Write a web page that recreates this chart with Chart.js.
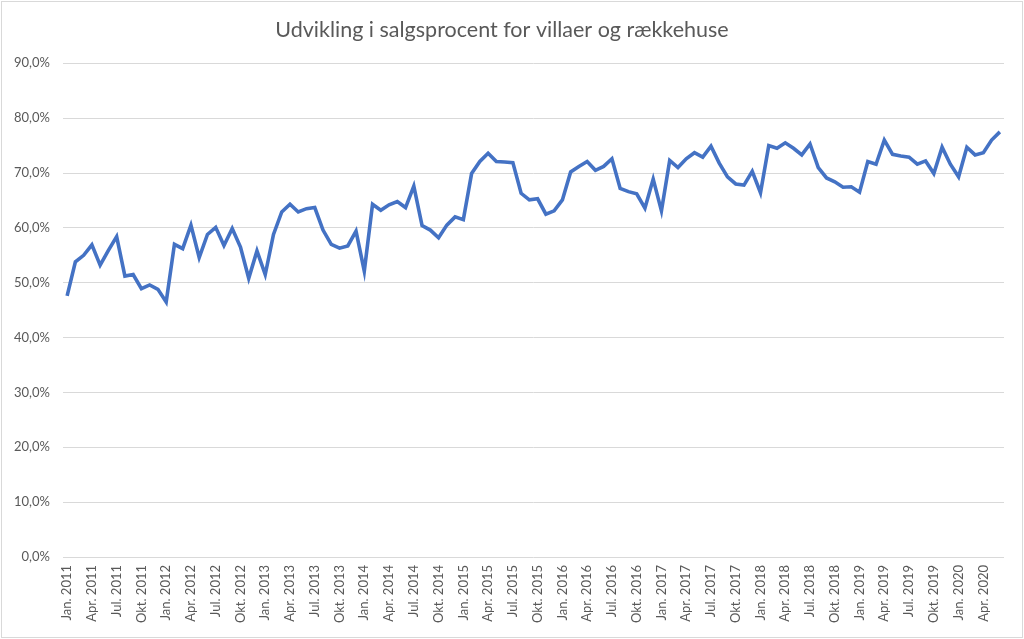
<!DOCTYPE html>
<html>
<head>
<meta charset="utf-8">
<script src="https://cdn.jsdelivr.net/npm/chart.js@4"></script>
<style>
html,body{margin:0;padding:0;background:#fff;}
#wrap{width:1024px;height:639px;position:relative;}
</style>
</head>
<body>
<div id="wrap"><canvas id="c" width="1024" height="639"></canvas></div>
<script>
const monthNames = ["Jan.","Feb.","Mar.","Apr.","Maj","Jun.","Jul.","Aug.","Sep.","Okt.","Nov.","Dec."];
const startYear = 2011;
const categories = [];
for (let i = 0; i < 114; i++) {
  categories.push(monthNames[i % 12] + " " + (startYear + Math.floor(i / 12)));
}
const salesPct = [
  47.6,53.8,55.0,56.9,53.2,55.9,58.4,51.2,51.5,48.9,49.6,48.8,
  46.5,57.0,56.2,60.5,54.6,58.8,60.1,56.8,59.9,56.5,50.8,55.8,
  51.5,58.8,62.9,64.3,62.9,63.5,63.7,59.6,57.0,56.3,56.7,59.4,
  52.1,64.3,63.2,64.2,64.8,63.7,67.6,60.4,59.6,58.2,60.5,62.0,
  61.5,69.9,72.1,73.6,72.1,72.0,71.9,66.3,65.1,65.3,62.5,63.1,
  65.1,70.2,71.2,72.1,70.5,71.2,72.6,67.2,66.6,66.2,63.6,68.9,
  63.1,72.3,71.0,72.6,73.7,72.9,74.9,71.8,69.3,68.0,67.8,70.3,
  66.4,75.0,74.5,75.5,74.5,73.3,75.3,71.0,69.1,68.4,67.4,67.5,
  66.5,72.1,71.6,76.0,73.4,73.1,72.9,71.6,72.2,69.9,74.7,71.6,
  69.3,74.7,73.3,73.7,76.0,77.5
];
const yTicks = [0,10,20,30,40,50,60,70,80,90];
const titleText = "Udvikling i salgsprocent for villaer og rækkehuse";

const FONT = "Lato";
const TXT = "#595959";
const GRID = "#d9d9d9";

const borderPlugin = {
  id: 'border',
  afterDraw(chart) {
    const ctx = chart.ctx;
    ctx.save();
    ctx.strokeStyle = "#d9d9d9";
    ctx.lineWidth = 1;
    ctx.strokeRect(1.5, 1.5, chart.width - 3, chart.height - 3);
    ctx.restore();
  }
};

new Chart(document.getElementById('c'), {
  type: 'line',
  data: {
    labels: categories,
    datasets: [{
      data: salesPct,
      borderColor: "#4472C4",
      borderWidth: 3.6,
      pointRadius: 0,
      tension: 0,
      fill: false
    }]
  },
  options: {
    responsive: false,
    animation: false,
    devicePixelRatio: 1,
    layout: { padding: { left: 0, right: 20, top: 0, bottom: 0 } },
    plugins: {
      legend: { display: false },
      tooltip: { enabled: false },
      title: {
        display: true,
        text: titleText,
        color: TXT,
        font: { family: FONT, size: 21.5, weight: 'normal' },
        padding: { top: 17, bottom: 20.5 }
      }
    },
    scales: {
      x: {
        type: 'category',
        offset: true,
        grid: { display: false, drawTicks: false },
        border: { display: false },
        afterFit(scale) { scale.height = 82; },
        ticks: {
          autoSkip: false,
          maxRotation: 90,
          minRotation: 90,
          padding: 8,
          color: TXT,
          font: { family: FONT, size: 13 },
          callback(value, index) { return index % 3 === 0 ? categories[index] : null; }
        }
      },
      y: {
        min: 0,
        max: 90,
        afterFit(scale) { scale.width = 63; },
        afterBuildTicks(scale) { scale.ticks = yTicks.map(v => ({ value: v })); },
        grid: { color: GRID, lineWidth: 1, drawTicks: false },
        border: { display: false },
        ticks: {
          padding: 13,
          color: TXT,
          font: { family: FONT, size: 13 },
          callback(v) { return v.toFixed(1).replace('.', ',') + '%'; }
        }
      }
    }
  },
  plugins: [borderPlugin]
});
</script>
</body>
</html>
